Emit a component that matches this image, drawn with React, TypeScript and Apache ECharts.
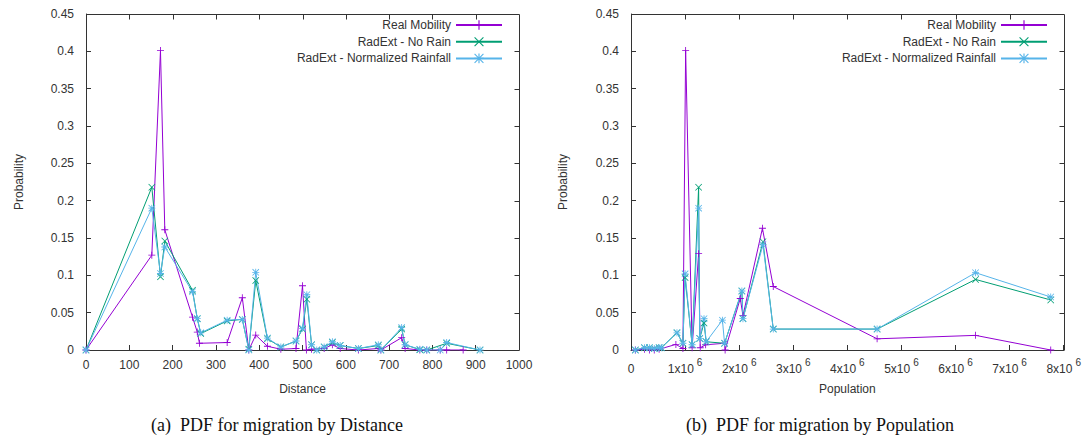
import { useEffect, useRef } from "react";
import * as echarts from "echarts";

const SERIES_NAMES = ["Real Mobility", "RadExt - No Rain", "RadExt - Normalized Rainfall"];
const COLORS = ["#9400d3", "#009e73", "#56b4e9"];

// Left panel: PDF by distance  [distance, probability]
const distReal: [number, number][] = [
  [0, 0], [152, 0.127], [172, 0.401], [182, 0.161], [246, 0.044], [257, 0.024], [262, 0.009],
  [326, 0.01], [361, 0.07], [376, 0], [392, 0.02], [419, 0.005], [450, 0.001], [485, 0.002],
  [500, 0.086], [509, 0], [521, 0.001], [550, 0.002], [569, 0.007], [587, 0.002], [629, 0],
  [675, 0.002], [681, 0], [729, 0.0165], [737, 0.002], [771, 0], [787, 0], [818, 0], [833, 0], [871, 0],
];
const distNoRain: [number, number][] = [
  [0, 0], [152, 0.218], [172, 0.098], [182, 0.146], [246, 0.08], [257, 0.042], [265, 0.022],
  [326, 0.039], [361, 0.041], [376, 0.001], [392, 0.093], [419, 0.015], [450, 0.004], [485, 0.012],
  [500, 0.028], [510, 0.068], [521, 0.007], [533, 0], [550, 0.004], [569, 0.01], [587, 0.006],
  [629, 0.002], [675, 0.006], [681, 0], [729, 0.028], [737, 0.007], [771, 0.0005], [787, 0],
  [833, 0.009], [910, 0],
];
const distRainfall: [number, number][] = [
  [0, 0], [152, 0.19], [172, 0.1025], [182, 0.138], [246, 0.078], [257, 0.042], [265, 0.023],
  [326, 0.04], [361, 0.041], [376, 0], [392, 0.104], [419, 0.016], [450, 0.004], [485, 0.012],
  [500, 0.029], [510, 0.074], [521, 0.007], [533, 0], [550, 0.004], [569, 0.011], [587, 0.006],
  [629, 0.002], [675, 0.007], [681, 0], [729, 0.03], [737, 0.007], [771, 0.001], [787, 0],
  [818, 0], [833, 0.01], [910, 0],
];

// Right panel: PDF by population  [population, probability]
const popReal: [number, number][] = [
  [0.08e6, 0], [0.25e6, 0.001], [0.34e6, 0], [0.43e6, 0], [0.52e6, 0.001], [0.83e6, 0.0075],
  [0.96e6, 0.002], [1.01e6, 0.401], [1.13e6, 0.003], [1.25e6, 0.129], [1.28e6, 0.003],
  [1.38e6, 0.007], [1.73e6, 0.009], [1.74e6, 0], [2.02e6, 0.069], [2.07e6, 0.046],
  [2.43e6, 0.163], [2.63e6, 0.085], [4.55e6, 0.015], [6.37e6, 0.0196], [7.76e6, 0],
];
const popNoRain: [number, number][] = [
  [0.08e6, 0], [0.25e6, 0.003], [0.34e6, 0.003], [0.43e6, 0.002], [0.52e6, 0.003], [0.56e6, 0.003],
  [0.85e6, 0.023], [0.96e6, 0.009], [1.0e6, 0.097], [1.13e6, 0.007], [1.25e6, 0.218],
  [1.27e6, 0.0155], [1.35e6, 0.036], [1.39e6, 0.011], [1.73e6, 0.009], [2.05e6, 0.079],
  [2.07e6, 0.042], [2.44e6, 0.145], [2.63e6, 0.028], [4.55e6, 0.028], [6.37e6, 0.0945], [7.76e6, 0.067],
];
const popRainfall: [number, number][] = [
  [0.08e6, 0], [0.25e6, 0.003], [0.34e6, 0.003], [0.43e6, 0.002], [0.52e6, 0.003], [0.56e6, 0.003],
  [0.85e6, 0.023], [0.96e6, 0.009], [1.0e6, 0.102], [1.13e6, 0.007], [1.25e6, 0.19],
  [1.27e6, 0.0155], [1.35e6, 0.042], [1.39e6, 0.011], [1.69e6, 0.04], [1.73e6, 0.009],
  [2.05e6, 0.079], [2.07e6, 0.042], [2.44e6, 0.141], [2.63e6, 0.028], [4.55e6, 0.028],
  [6.37e6, 0.1035], [7.76e6, 0.071],
];

const CAPTIONS = ["(a)  PDF for migration by Distance", "(b)  PDF for migration by Population"];
const Y_MAX = 0.45;
const Y_INTERVAL = 0.05;
const X_MAX = [1000, 8e6];
const X_INTERVAL = [100, 1e6];

const SYM_PLUS = "path://M4.4,0 H5.6 V10 H4.4 Z M0,4.4 H10 V5.6 H0 Z";
const SYM_CROSS = "path://M0,0.8 L0.8,0 L10,9.2 L9.2,10 Z M9.2,0 L10,0.8 L0.8,10 L0,9.2 Z";
const SYM_STAR =
  "path://M4.4,0 H5.6 V10 H4.4 Z M0,4.4 H10 V5.6 H0 Z M0.8,0 L10,9.2 L9.2,10 L0,0.8 Z M9.2,0 L10,0.8 L0.8,10 L0,9.2 Z";
const SYMBOLS = [SYM_PLUS, SYM_CROSS, SYM_STAR];

const FONT = "Liberation Sans";
const TXT = "#333";
const FRAME = "#333";

export default function App() {
  const ref = useRef<HTMLDivElement>(null);
  useEffect(() => {
    const chart = echarts.init(ref.current!, null, { renderer: "svg" });

    const yFmt = (v: number) => String(parseFloat(v.toFixed(2)));
    const mkTick = () => ({ show: true, inside: true, length: 5, lineStyle: { color: FRAME } });
    const mkLine = () => ({ show: true, onZero: false, lineStyle: { color: FRAME, width: 1 } });

    const yAxisBase = (gi: number, gap: number) => ({
      type: "value",
      gridIndex: gi,
      position: "left",
      min: 0,
      max: Y_MAX,
      interval: Y_INTERVAL,
      name: "Probability",
      nameLocation: "middle",
      nameGap: gap,
      nameTextStyle: { fontFamily: FONT, fontSize: 12, color: TXT },
      axisLine: mkLine(),
      axisTick: mkTick(),
      splitLine: { show: false },
      axisLabel: { fontFamily: FONT, fontSize: 12, color: TXT, margin: 12, formatter: yFmt },
    });

    const popFmt = (v: number) => (v === 0 ? "{b|0}" : `{b|${Math.round(v / 1e6)}x10}{s|6}`);

    const mk = (data: [number, number][], i: number, gi: number) => ({
      type: "line",
      name: SERIES_NAMES[i],
      data,
      xAxisIndex: gi,
      yAxisIndex: gi,
      symbol: SYMBOLS[i],
      symbolSize: 7,
      showAllSymbol: true,
      lineStyle: { color: COLORS[i], width: 1 },
      itemStyle: { color: COLORS[i] },
      emphasis: { disabled: true },
    });

    const legendBase = {
      orient: "vertical",
      align: "right",
      top: 19,
      padding: 0,
      itemWidth: 46,
      itemHeight: 12,
      itemGap: 4.7,
      selectedMode: false,
      textStyle: { fontFamily: FONT, fontSize: 12, color: TXT },
      data: SERIES_NAMES,
    };

    chart.setOption({
      animation: false,
      grid: [
        { left: 86, right: 1084 - 519, top: 14, bottom: 85 },
        { left: 631, right: 1084 - 1066, top: 14, bottom: 85 },
      ],
      legend: [
        { ...legendBase, right: 1084 - 503 },
        { ...legendBase, right: 1084 - 1048 },
      ],
      xAxis: [
        {
          type: "value",
          gridIndex: 0,
          position: "bottom",
          min: 0,
          max: X_MAX[0],
          interval: X_INTERVAL[0],
          name: "Distance",
          nameLocation: "middle",
          nameGap: 33,
          nameTextStyle: { fontFamily: FONT, fontSize: 12, color: TXT },
          axisLine: mkLine(),
          axisTick: mkTick(),
          splitLine: { show: false },
          axisLabel: { fontFamily: FONT, fontSize: 12, color: TXT, margin: 9, formatter: (v: number) => String(v) },
        },
        {
          type: "value",
          gridIndex: 1,
          position: "bottom",
          min: 0,
          max: X_MAX[1],
          interval: X_INTERVAL[1],
          name: "Population",
          nameLocation: "middle",
          nameGap: 33,
          nameTextStyle: { fontFamily: FONT, fontSize: 12, color: TXT },
          axisLine: mkLine(),
          axisTick: mkTick(),
          splitLine: { show: false },
          axisLabel: {
            fontFamily: FONT,
            fontSize: 12,
            color: TXT,
            margin: 7,
            formatter: popFmt,
            rich: {
              b: { fontFamily: FONT, fontSize: 12, color: TXT, lineHeight: 18, verticalAlign: "bottom" },
              s: { fontFamily: FONT, fontSize: 10, color: TXT, lineHeight: 11, verticalAlign: "top", padding: [0, 0, 0, 3] },
            },
          },
        },
      ],
      yAxis: [yAxisBase(0, 61), yAxisBase(1, 62)],
      series: [
        mk(distReal, 0, 0),
        mk(distNoRain, 1, 0),
        mk(distRainfall, 2, 0),
        mk(popReal, 0, 1),
        mk(popNoRain, 1, 1),
        mk(popRainfall, 2, 1),
      ],
    });

    // Plot frame (top and right borders with inward mirrored ticks), placed through the axes' own scales.
    const el: any[] = [];
    const seg = (x1: number, y1: number, x2: number, y2: number) => ({
      type: "line",
      z: 100,
      silent: true,
      shape: { x1, y1, x2, y2 },
      style: { stroke: FRAME, lineWidth: 1 },
    });
    const snap = (v: number) => Math.round(v) + 0.5;
    for (let gi = 0; gi < 2; gi++) {
      const finder = { xAxisIndex: gi, yAxisIndex: gi };
      const tl = chart.convertToPixel(finder, [0, Y_MAX]) as number[];
      const br = chart.convertToPixel(finder, [X_MAX[gi], 0]) as number[];
      const top = snap(tl[1]);
      const right = snap(br[0]);
      el.push(seg(snap(tl[0]), top, right, top));
      el.push(seg(right, top, right, snap(br[1])));
      const nx = Math.round(X_MAX[gi] / X_INTERVAL[gi]);
      for (let k = 1; k < nx; k++) {
        const p = chart.convertToPixel(finder, [k * X_INTERVAL[gi], Y_MAX]) as number[];
        el.push(seg(snap(p[0]), top, snap(p[0]), top + 5));
      }
      const ny = Math.round(Y_MAX / Y_INTERVAL);
      for (let k = 1; k < ny; k++) {
        const p = chart.convertToPixel(finder, [X_MAX[gi], k * Y_INTERVAL]) as number[];
        el.push(seg(right - 5, snap(p[1]), right, snap(p[1])));
      }
    }

    chart.setOption({
      graphic: [
        ...el,
        {
          type: "text",
          x: 277,
          y: 425,
          style: {
            text: CAPTIONS[0],
            fontFamily: "Liberation Serif",
            fontSize: 18,
            fill: "#111",
            align: "center",
            verticalAlign: "middle",
          },
        },
        {
          type: "text",
          x: 820,
          y: 425,
          style: {
            text: CAPTIONS[1],
            fontFamily: "Liberation Serif",
            fontSize: 18,
            fill: "#111",
            align: "center",
            verticalAlign: "middle",
          },
        },
      ],
    });
    return () => chart.dispose();
  }, []);
  return (
    <div
      ref={ref}
      style={{ position: "absolute", left: 0, top: 0, width: 1084, height: 435, background: "#fff" }}
    />
  );
}
